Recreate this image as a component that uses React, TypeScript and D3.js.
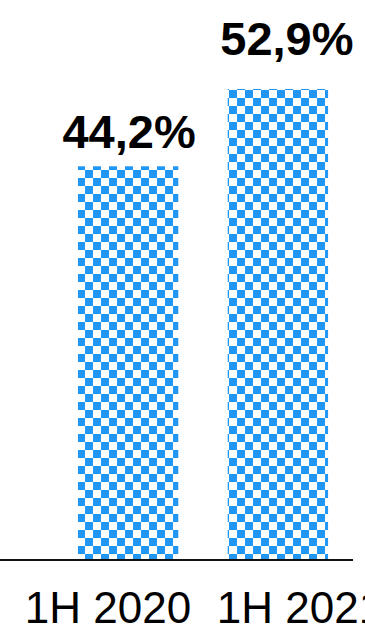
import React from "react";
import * as d3 from "d3";

const categories = ["1H 2020", "1H 2021"];
const values = [44.2, 52.9];
const valueLabels = ["44,2%", "52,9%"];

const W = 365;
const H = 630;
const BLUE = "#2196f3";

export default function App() {
  const x = d3
    .scaleBand<string>()
    .domain(categories)
    .range([28, 378])
    .paddingInner(0.33)
    .paddingOuter(1 / 3);
  const y = d3.scaleLinear().domain([0, 60]).range([559, 559 - 8.885 * 60]);
  const xLabel = d3.scalePoint<string>().domain(categories).range([108, 300]);
  const valueDx = [1, 9];
  const valueDy = [18, 34];

  return (
    <svg
      width={W}
      height={H}
      style={{ position: "absolute", left: 0, top: 0, background: "#fff" }}
    >
      <defs>
        <pattern
          id="checker"
          patternUnits="userSpaceOnUse"
          x={5}
          y={2}
          width={16}
          height={16}
        >
          <rect x={0} y={0} width={16} height={16} fill="#fff" />
          <rect x={0} y={8} width={8} height={8} fill={BLUE} />
          <rect x={8} y={0} width={8} height={8} fill={BLUE} />
        </pattern>
      </defs>
      {categories.map((c, i) => (
        <rect
          key={c}
          x={x(c)}
          y={y(values[i])}
          width={x.bandwidth()}
          height={y(0) - y(values[i])}
          fill="url(#checker)"
        />
      ))}
      <line x1={0} x2={353} y1={y(0) + 1} y2={y(0) + 1} stroke="#111" strokeWidth={2} />
      {categories.map((c, i) => (
        <text
          key={"v" + c}
          x={(x(c) as number) + x.bandwidth() / 2 + valueDx[i]}
          y={y(values[i]) - valueDy[i]}
          textAnchor="middle"
          fontFamily="'Liberation Sans', Arial, sans-serif"
          fontWeight="bold"
          fontSize={47}
          fill="#000"
        >
          {valueLabels[i]}
        </text>
      ))}
      {categories.map((c) => (
        <text
          key={"x" + c}
          x={xLabel(c)}
          y={623}
          textAnchor="middle"
          fontFamily="'Liberation Sans', Arial, sans-serif"
          fontSize={44}
          fill="#000"
        >
          {c}
        </text>
      ))}
    </svg>
  );
}
